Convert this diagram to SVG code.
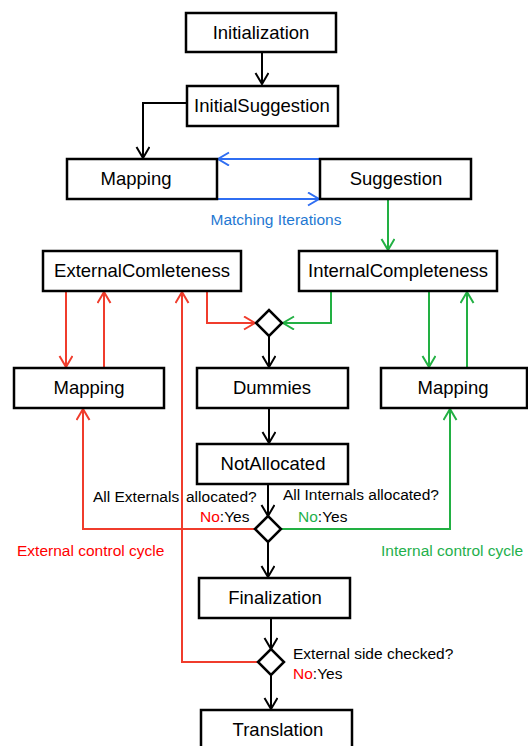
<svg xmlns="http://www.w3.org/2000/svg" width="528" height="746" viewBox="0 0 528 746">
  <style>
    .box { fill: #ffffff; stroke: #000000; stroke-width: 2.5; }
    .dia { fill: #ffffff; stroke: #000000; stroke-width: 2.5; stroke-linejoin: miter; }
    .lbl { font-family: "Liberation Sans", Arial, sans-serif; font-size: 18.5px; fill: #000000; text-anchor: middle; }
    .note { font-family: "Liberation Sans", Arial, sans-serif; font-size: 15.5px; fill: #000000; }
    .c { fill: none; stroke-width: 2; }
    .k { stroke: #000000; }
    .r { stroke: #f03c2c; }
    .g { stroke: #22b043; }
    .b { stroke: #2f6ef2; }
    .tr { fill: #ff0000; }
    .tg { fill: #1fb04c; }
    .tb { fill: #1f78d2; }
  </style>
  <defs>
    <marker id="ak" markerUnits="userSpaceOnUse" markerWidth="16" markerHeight="16" refX="12" refY="7" orient="auto" viewBox="0 0 16 16">
      <path d="M1,0.5 L12,7 L1,13.5" fill="none" stroke="#000000" stroke-width="2"/>
    </marker>
    <marker id="ar" markerUnits="userSpaceOnUse" markerWidth="16" markerHeight="16" refX="12" refY="7" orient="auto" viewBox="0 0 16 16">
      <path d="M1,0.5 L12,7 L1,13.5" fill="none" stroke="#f03c2c" stroke-width="2"/>
    </marker>
    <marker id="ag" markerUnits="userSpaceOnUse" markerWidth="16" markerHeight="16" refX="12" refY="7" orient="auto" viewBox="0 0 16 16">
      <path d="M1,0.5 L12,7 L1,13.5" fill="none" stroke="#22b043" stroke-width="2"/>
    </marker>
    <marker id="ab" markerUnits="userSpaceOnUse" markerWidth="16" markerHeight="16" refX="12" refY="7" orient="auto" viewBox="0 0 16 16">
      <path d="M1,0.5 L12,7 L1,13.5" fill="none" stroke="#2f6ef2" stroke-width="2"/>
    </marker>
  </defs>
  <rect width="528" height="746" fill="#ffffff"/>

  <!-- connectors -->
  <g id="connectors">
    <!-- main flow -->
    <path class="c k" d="M262,53 V84" marker-end="url(#ak)"/>
    <path class="c k" d="M187,103 H143 V158" marker-end="url(#ak)"/>
    <path class="c k" d="M269,336 V367" marker-end="url(#ak)"/>
    <path class="c k" d="M269,409 V443" marker-end="url(#ak)"/>
    <path class="c k" d="M268,484 V516" marker-end="url(#ak)"/>
    <path class="c k" d="M268,542 V577" marker-end="url(#ak)"/>
    <path class="c k" d="M271,618 V649" marker-end="url(#ak)"/>
    <path class="c k" d="M271,675 V709" marker-end="url(#ak)"/>
    <!-- matching iterations -->
    <path class="c b" d="M320,159 H218" marker-end="url(#ab)"/>
    <path class="c b" d="M218,199 H319" marker-end="url(#ab)"/>
    <!-- internal side -->
    <path class="c g" d="M388,200 V250" marker-end="url(#ag)"/>
    <path class="c g" d="M331,291 V323 H283" marker-end="url(#ag)"/>
    <path class="c g" d="M429,291 V367" marker-end="url(#ag)"/>
    <path class="c g" d="M467,368 V292" marker-end="url(#ag)"/>
    <path class="c g" d="M281,529 H450 V409" marker-end="url(#ag)"/>
    <!-- external side -->
    <path class="c r" d="M66,291 V367" marker-end="url(#ar)"/>
    <path class="c r" d="M104,368 V292" marker-end="url(#ar)"/>
    <path class="c r" d="M207,291 V323 H255" marker-end="url(#ar)"/>
    <path class="c r" d="M255,529 H83 V409" marker-end="url(#ar)"/>
    <path class="c r" d="M258,662 H182 V292" marker-end="url(#ar)"/>
  </g>

  <!-- nodes -->
  <g id="initialization">
    <rect class="box" x="186" y="13" width="150" height="39"/>
    <text class="lbl" x="261" y="39">Initialization</text>
  </g>
  <g id="initial-suggestion">
    <rect class="box" x="187" y="86" width="151" height="40"/>
    <text class="lbl" x="262" y="112">InitialSuggestion</text>
  </g>
  <g id="mapping-top">
    <rect class="box" x="67" y="159" width="150" height="40"/>
    <text class="lbl" x="136" y="185">Mapping</text>
  </g>
  <g id="suggestion">
    <rect class="box" x="320" y="159" width="151" height="40"/>
    <text class="lbl" x="396" y="185">Suggestion</text>
  </g>
  <g id="external-completeness">
    <rect class="box" x="43" y="251" width="198" height="40"/>
    <text class="lbl" x="142" y="277">ExternalComleteness</text>
  </g>
  <g id="internal-completeness">
    <rect class="box" x="299" y="251" width="198" height="40"/>
    <text class="lbl" x="398" y="277">InternalCompleteness</text>
  </g>
  <g id="join-diamond">
    <polygon class="dia" points="256,323 269,310 282,323 269,336"/>
  </g>
  <g id="mapping-external">
    <rect class="box" x="14" y="368" width="150" height="40"/>
    <text class="lbl" x="89" y="394">Mapping</text>
  </g>
  <g id="dummies">
    <rect class="box" x="197" y="368" width="151" height="40"/>
    <text class="lbl" x="272" y="394">Dummies</text>
  </g>
  <g id="mapping-internal">
    <rect class="box" x="381" y="368" width="146" height="40"/>
    <text class="lbl" x="453" y="394">Mapping</text>
  </g>
  <g id="not-allocated">
    <rect class="box" x="197" y="444" width="151" height="40"/>
    <text class="lbl" x="273" y="470">NotAllocated</text>
  </g>
  <g id="allocation-check">
    <polygon class="dia" points="255,529 268,516 281,529 268,542"/>
    <text class="note" x="93" y="502">All Externals <tspan x="186">allocated?</tspan></text>
    <text class="note" x="283" y="500">All Internals allocated?</text>
    <text class="note" x="200" y="522"><tspan class="tr">No</tspan>:Yes</text>
    <text class="note" x="298" y="522"><tspan class="tg">No</tspan>:Yes</text>
    <text class="note tr" x="17" y="556">External control cycle</text>
    <text class="note tg" x="381" y="556">Internal control cycle</text>
  </g>
  <g id="finalization">
    <rect class="box" x="199" y="578" width="151" height="40"/>
    <text class="lbl" x="275" y="604">Finalization</text>
  </g>
  <g id="external-check">
    <polygon class="dia" points="258,662 271,649 284,662 271,675"/>
    <text class="note" x="293" y="659">External side checked?</text>
    <text class="note" x="293" y="679"><tspan class="tr">No</tspan>:Yes</text>
  </g>
  <g id="translation">
    <rect class="box" x="201" y="710" width="151" height="40"/>
    <text class="lbl" x="278" y="736">Translation</text>
  </g>
  <g id="matching-label">
    <text class="note tb" x="276" y="225" text-anchor="middle">Matching Iterations</text>
  </g>
</svg>
